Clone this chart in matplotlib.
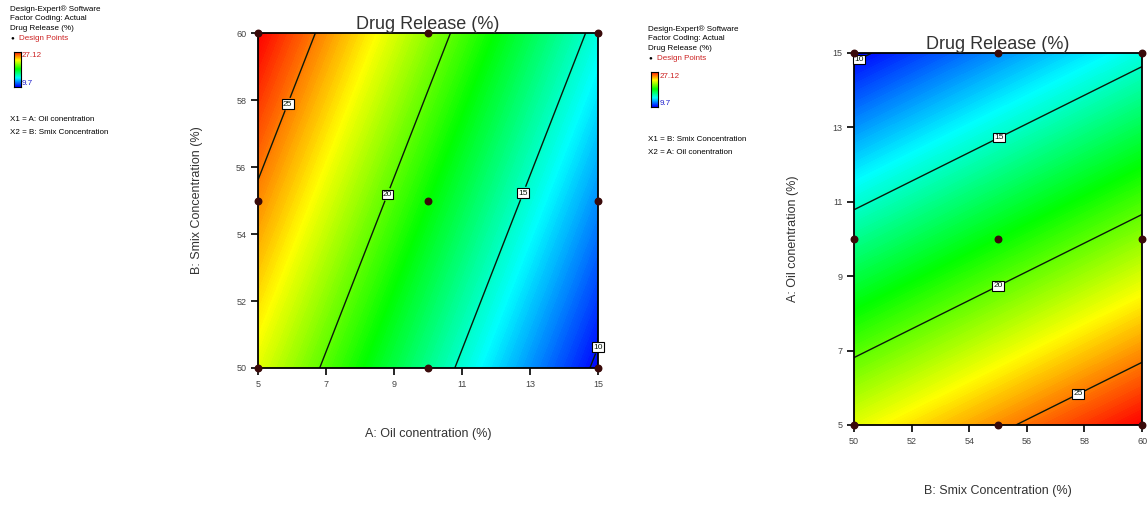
import numpy as np
import matplotlib
matplotlib.use("Agg")
import matplotlib.pyplot as plt
from matplotlib.colors import LinearSegmentedColormap

plt.rcParams['font.family'] = ['Liberation Sans', 'DejaVu Sans']

# design levels
oil_levels = [5, 10, 15]        # A: Oil conentration (%)
smix_levels = [50, 55, 60]      # B: Smix Concentration (%)

# fitted drug release (%) at the design points, rows = oil, cols = smix
drug_release = [
    [22.28, 24.70, 27.12],
    [15.99, 18.41, 20.83],
    [9.70, 12.12, 14.54],
]
contour_levels = [10, 15, 20, 25]
dr_min, dr_max = 9.7, 27.12

oil_ticks = [5, 7, 9, 11, 13, 15]
smix_ticks = [50, 52, 54, 56, 58, 60]

# label spots (x, y in data units)
left_label_pos = [(5.94, 57.85), (8.76, 55.2), (12.6, 55.3), (14.75, 50.9)]
right_label_pos = [(50.2, 14.76), (55.0, 12.8), (54.9, 8.9), (57.6, 6.13)]

de_cmap = LinearSegmentedColormap.from_list(
    "de", [(0, "#0000ff"), (0.25, "#00ffff"), (0.5, "#00ff00"),
           (0.75, "#ffff00"), (1, "#ff0000")])

Z = np.array(drug_release)


def draw_panel(ax, x, y, z, xt, yt, xlab, ylab, lab_pos):
    X, Y = np.meshgrid(x, y)
    ax.contourf(X, Y, z, levels=np.linspace(dr_min - 0.1, dr_max + 0.1, 200),
                cmap=de_cmap, vmin=dr_min, vmax=dr_max)
    cs = ax.contour(X, Y, z, levels=contour_levels, colors='#0a1a0a',
                    linewidths=1.0)
    labs = ax.clabel(cs, fmt='%d', fontsize=6, inline=True,
                     manual=lab_pos, inline_spacing=2)
    for t in labs:
        t.set_rotation(0)
        t.set_clip_on(False)
        t.set_bbox(dict(boxstyle='square,pad=0.15', fc='white',
                        ec='black', lw=0.8))
    ax.scatter(X.ravel(), Y.ravel(), s=22, color='#3a0a0a', zorder=5,
               clip_on=False)
    ax.set_xlim(x[0], x[-1])
    ax.set_ylim(y[0], y[-1])
    ax.set_xticks(xt)
    ax.set_yticks(yt)
    ax.tick_params(labelsize=6.5, length=5, width=1.2, colors='black',
                   labelcolor='#444444')
    for s in ax.spines.values():
        s.set_linewidth(1.3)
    ax.set_title('Drug Release (%)', fontsize=13, color='#333333', pad=3)
    ax.set_xlabel(xlab, fontsize=9, color='#333333', labelpad=28)
    ax.set_ylabel(ylab, fontsize=9, color='#333333', labelpad=24)


def legend_block(fig, x0, y0, lines_x):
    fs = 5.8
    dy = 0.0197
    fig.text(x0, y0, 'Design-Expert® Software', fontsize=fs, va='top')
    fig.text(x0, y0 - dy, 'Factor Coding: Actual', fontsize=fs, va='top')
    fig.text(x0, y0 - 2 * dy, 'Drug Release (%)', fontsize=fs, va='top')
    fig.text(x0, y0 - 3 * dy, '●', fontsize=4.5, va='top')
    fig.text(x0 + 0.008, y0 - 3 * dy, 'Design Points', fontsize=fs,
             va='top', color='#cc2222')
    cax = fig.add_axes([x0 + 0.003, y0 - 0.161, 0.006, 0.069])
    cax.imshow(np.linspace(1, 0, 50)[:, None], aspect='auto', cmap=de_cmap)
    cax.set_xticks([])
    cax.set_yticks([])
    fig.text(x0 + 0.010, y0 - 0.093, '27.12', fontsize=fs, va='top',
             color='#cc2222')
    fig.text(x0 + 0.010, y0 - 0.161, '9.7', fontsize=fs, va='bottom',
             color='#2222cc')
    fig.text(x0, y0 - 0.218, lines_x[0], fontsize=fs, va='top')
    fig.text(x0, y0 - 0.244, lines_x[1], fontsize=fs, va='top')


fig = plt.figure(figsize=(11.47, 5.08), dpi=100)

ax1 = fig.add_axes([0.225, 0.2756, 0.2964, 0.6594])
draw_panel(ax1, oil_levels, smix_levels, Z.T, oil_ticks, smix_ticks,
           'A: Oil conentration (%)', 'B: Smix Concentration (%)',
           left_label_pos)

ax2 = fig.add_axes([0.7446, 0.1634, 0.2511, 0.7323])
draw_panel(ax2, smix_levels, oil_levels, Z, smix_ticks, oil_ticks,
           'B: Smix Concentration (%)', 'A: Oil conentration (%)',
           right_label_pos)

legend_block(fig, 0.009, 0.99,
             ['X1 = A: Oil conentration', 'X2 = B: Smix Concentration'])
legend_block(fig, 0.565, 0.95,
             ['X1 = B: Smix Concentration', 'X2 = A: Oil conentration'])

fig.savefig('out.png', dpi=100)
